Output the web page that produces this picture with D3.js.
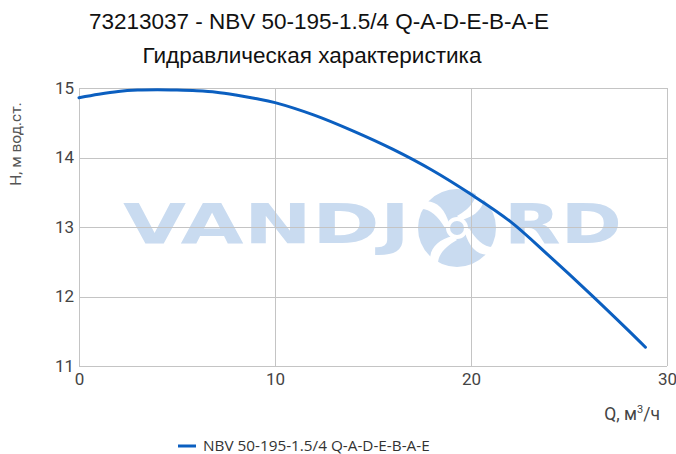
<!DOCTYPE html>
<html>
<head>
<meta charset="utf-8">
<script src="https://cdn.jsdelivr.net/npm/d3@7"></script>
<style>
  body { margin: 0; background: #fff; }
  svg { display: block; font-family: Roboto, "Liberation Sans", Arial, sans-serif; }
</style>
</head>
<body>
<script>
// pump curve
const flow = [0, 1, 2, 3, 4, 5, 6, 7, 8, 9, 10, 12, 14, 16, 18, 20, 22, 24, 26, 28, 28.9];
const head = [14.86, 14.91, 14.95, 14.97, 14.975, 14.97, 14.96, 14.94, 14.9, 14.85, 14.79,
              14.61, 14.38, 14.12, 13.82, 13.47, 13.08, 12.58, 12.06, 11.52, 11.27];
const xTicks = [0, 10, 20, 30];
const yTicks = [11, 12, 13, 14, 15];
const seriesName = "NBV 50-195-1.5/4 Q-A-D-E-B-A-E";

const width = 676, height = 454;
const margin = {top: 88, right: 9, bottom: 88, left: 79};
const blue = "#0b5fc0";

const data = flow.map((q, i) => ({q: q, h: head[i]}));

const x = d3.scaleLinear().domain([0, 30]).range([margin.left, width - margin.right]);
const y = d3.scaleLinear().domain([11, 15]).range([height - margin.bottom, margin.top]);

const svg = d3.select("body").append("svg")
  .attr("width", width)
  .attr("height", height);

// titles
svg.append("text")
  .attr("x", 319).attr("y", 29)
  .attr("text-anchor", "middle")
  .attr("font-family", "'Liberation Sans', Arial, sans-serif")
  .attr("font-size", 22.5)
  .attr("fill", "#111")
  .text("73213037 - NBV 50-195-1.5/4 Q-A-D-E-B-A-E");

svg.append("text")
  .attr("x", 312).attr("y", 63)
  .attr("text-anchor", "middle")
  .attr("font-family", "'Liberation Sans', Arial, sans-serif")
  .attr("font-size", 22.5)
  .attr("fill", "#111")
  .text("Гидравлическая характеристика");

// watermark
const wm = svg.append("g").attr("fill", "#c9dbf0");
wm.append("text")
  .attr("x", 123).attr("y", 243)
  .attr("font-family", "'DejaVu Sans', sans-serif")
  .attr("font-weight", "bold")
  .attr("font-size", 56)
  .attr("textLength", 287)
  .attr("lengthAdjust", "spacingAndGlyphs")
  .text("VANDJ");
wm.append("text")
  .attr("x", 504).attr("y", 243)
  .attr("font-family", "'DejaVu Sans', sans-serif")
  .attr("font-weight", "bold")
  .attr("font-size", 56)
  .attr("textLength", 118)
  .attr("lengthAdjust", "spacingAndGlyphs")
  .text("RD");
const logo = wm.append("g").attr("transform", "translate(457,228)");
logo.append("circle").attr("r", 39);
for (let k = 0; k < 4; k++) {
  logo.append("path")
    .attr("transform", `rotate(${k * 90})`)
    .attr("d", "M0,-12 C14,-20 22,-30 18,-42 L24,-40 C32,-26 22,-12 4,-8 Z")
    .attr("fill", "#fff");
}
logo.append("circle").attr("r", 11).attr("fill", "#fff");
logo.append("circle").attr("r", 7).attr("fill", "#c9dbf0");

// grid
const grid = svg.append("g").attr("stroke", "#c4c4c4").attr("stroke-width", 1);
grid.selectAll(".vx")
  .data(xTicks)
  .join("line")
    .attr("x1", d => Math.round(x(d)) + 0.5)
    .attr("x2", d => Math.round(x(d)) + 0.5)
    .attr("y1", y(15)).attr("y2", y(11));
grid.selectAll(".hy")
  .data(yTicks)
  .join("line")
    .attr("y1", d => Math.round(y(d)) + 0.5)
    .attr("y2", d => Math.round(y(d)) + 0.5)
    .attr("x1", x(0)).attr("x2", x(30));

// axes
const yAxis = g => g
  .attr("transform", `translate(${margin.left},0)`)
  .call(d3.axisLeft(y).tickValues(yTicks).tickFormat(d3.format("d")).tickSize(0).tickPadding(5))
  .call(g => g.select(".domain").remove())
  .call(g => g.selectAll("text")
    .attr("font-size", 17)
    .attr("font-family", "Roboto, sans-serif")
    .attr("fill", "#444"));

const xAxis = g => g
  .attr("transform", `translate(0,${height - margin.bottom})`)
  .call(d3.axisBottom(x).tickValues(xTicks).tickFormat(d3.format("d")).tickSize(0).tickPadding(7))
  .call(g => g.select(".domain").remove())
  .call(g => g.selectAll("text")
    .attr("font-size", 17)
    .attr("font-family", "Roboto, sans-serif")
    .attr("fill", "#444"));

svg.append("g").call(yAxis);
svg.append("g").call(xAxis);

svg.append("text")
  .attr("transform", "translate(21,144) rotate(-90)")
  .attr("text-anchor", "middle")
  .attr("font-size", 15.5)
  .attr("fill", "#555")
  .text("Н, м вод.ст.");

const qLabel = svg.append("text")
  .attr("x", 660).attr("y", 420)
  .attr("text-anchor", "end")
  .attr("font-size", 17.5)
  .attr("fill", "#444");
qLabel.append("tspan").text("Q, м");
qLabel.append("tspan").attr("dy", -7).attr("font-size", 11).text("3");
qLabel.append("tspan").attr("dy", 7).text("/ч");

// curve
const line = d3.line()
  .x(d => x(d.q))
  .y(d => y(d.h))
  .curve(d3.curveCatmullRom);

svg.append("path")
  .datum(data)
  .attr("fill", "none")
  .attr("stroke", blue)
  .attr("stroke-width", 3)
  .attr("stroke-linecap", "round")
  .attr("d", line);

// legend
const legend = svg.append("g").attr("transform", "translate(178,446)");
legend.append("line")
  .attr("x1", 0).attr("x2", 18)
  .attr("stroke", blue).attr("stroke-width", 3);
legend.append("text")
  .attr("x", 25).attr("y", 5)
  .attr("font-family", "'Open Sans', sans-serif")
  .attr("font-size", 15.3)
  .attr("fill", "#333")
  .text(seriesName);
</script>
</body>
</html>
